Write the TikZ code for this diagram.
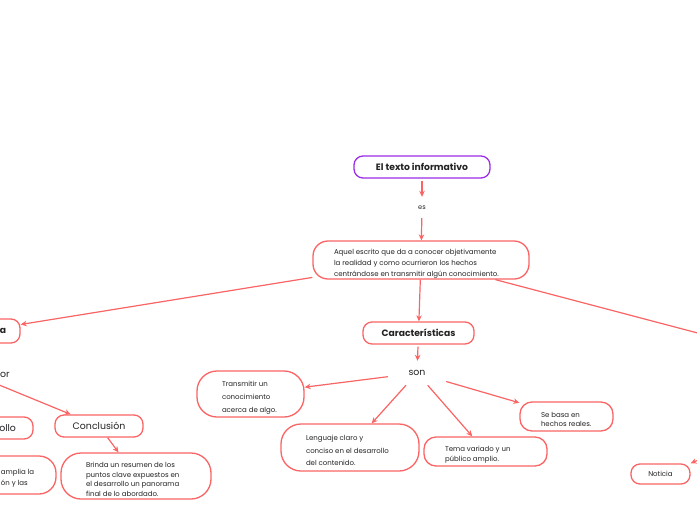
\documentclass[tikz,border=0pt]{standalone}
\usepackage{fontspec}
\setmainfont{Poppins}
\usetikzlibrary{arrows.meta}
\definecolor{boxred}{RGB}{250,100,100}
\definecolor{purp}{RGB}{155,45,230}
\definecolor{txt}{RGB}{35,35,35}
\newcommand\firstline[2]{\makebox[#1pt][l]{\rule{0pt}{12pt}#2}}
\tikzset{
  bx/.style={draw=boxred, line width=1.3pt, fill=white, inner sep=0pt, text=txt},
  tb/.style={bx, rounded corners=9pt, font=\fontsize{9.2}{11}\selectfont\bfseries},
  tr/.style={bx, rounded corners=9pt, font=\fontsize{9.4}{11}\selectfont},
  sm/.style={font=\fontsize{7}{#1}\selectfont, align=left},
  lbl/.style={inner sep=0pt, text=txt},
  arr/.style={draw=boxred, line width=1.2pt, -{Stealth[length=6pt,width=5.5pt]}},
  ln/.style={draw=boxred, line width=1.2pt},
}
\begin{document}
\begin{tikzpicture}[x=1pt,y=-1pt]
\useasboundingbox (0,0) rectangle (697,520);
\clip (0,0) rectangle (697,520);
% nodes
\node[tb, draw=purp, minimum width=136, minimum height=22] (title) at (422,167) {El texto informativo};
\node[lbl, font=\fontsize{6.6}{8}\selectfont, minimum height=21] (es) at (422,207.5) {es};
\node[bx, rounded corners=15pt, minimum width=216, minimum height=38, sm=11] (main) at (421,260) {\firstline{174}{Aquel escrito que da a conocer objetivamente}\\la realidad y como ocurrieron los hechos\\centrándose en transmitir algún conocimiento.};
\node[tb, minimum width=80, minimum height=24, text width=52, align=right] (estr) at (-20,331) {a};
\node[tb, minimum width=111, minimum height=22] (car) at (418.5,333) {Características};
\node[lbl, font=\fontsize{9.4}{11}\selectfont, minimum width=58, minimum height=24] (son) at (417,373) {son};
\node[bx, rounded corners=20pt, minimum width=107, minimum height=46, sm=13] (trans) at (250.5,394) {\firstline{57}{Transmitir un}\\conocimiento\\acerca de algo.};
\node[bx, rounded corners=20pt, minimum width=138, minimum height=47, sm=12.5] (leng) at (350,447.5) {\firstline{88}{Lenguaje claro y}\\conciso en el desarrollo\\del contenido.};
\node[bx, rounded corners=12pt, minimum width=123, minimum height=29, sm=10] (tema) at (485.5,451.5) {\firstline{81}{Tema variado y un}\\público amplio.};
\node[bx, rounded corners=12pt, minimum width=93, minimum height=29, sm=9] (sebasa) at (566.5,416.5) {\firstline{51}{Se basa en}\\hechos reales.};
\node[bx, rounded corners=9pt, minimum width=59, minimum height=20, font=\fontsize{7}{8}\selectfont] (noticia) at (660.5,474) {Noticia};
\node[lbl, font=\fontsize{9.4}{11}\selectfont, anchor=west] (por) at (0,375) {or};
\coordinate (porsrc) at (-30,373);
\node[tr, minimum width=88, minimum height=22] (concl) at (99,426) {Conclusión};
\node[tr, minimum width=73, minimum height=22, text width=39, align=right] (desa) at (-3.5,428) {ollo};
\node[bx, rounded corners=20pt, minimum width=150, minimum height=46, sm=9.7] (brinda) at (136,476) {\firstline{100}{Brinda un resumen de los}\\puntos clave expuestos en\\el desarrollo un panorama\\final de lo abordado.};
\node[bx, rounded corners=17pt, minimum width=82, minimum height=38, sm=11] (ampl) at (15,475) {\firstline{28}{amplia la}\\ón y las};
\coordinate (rightend) at (800,360);
\coordinate (notsrc) at (740,442);
% connectors
\draw[arr, shorten <=2pt] (title) -- (es);
\draw[arr] (es) -- (main);
\draw[arr] (main) -- (estr);
\draw[arr] (main) -- (car);
\draw[ln] (main) -- (rightend);
\draw[arr, shorten <=2pt] (car) -- (son);
\draw[arr] (son) -- (trans);
\draw[arr] (son) -- (leng);
\draw[arr] (son) -- (tema);
\draw[arr] (son) -- (sebasa);
\draw[arr] (notsrc) -- (noticia.north east);
\draw[arr] (porsrc) -- (concl);
\draw[arr] (concl) -- (brinda);
\end{tikzpicture}
\end{document}
